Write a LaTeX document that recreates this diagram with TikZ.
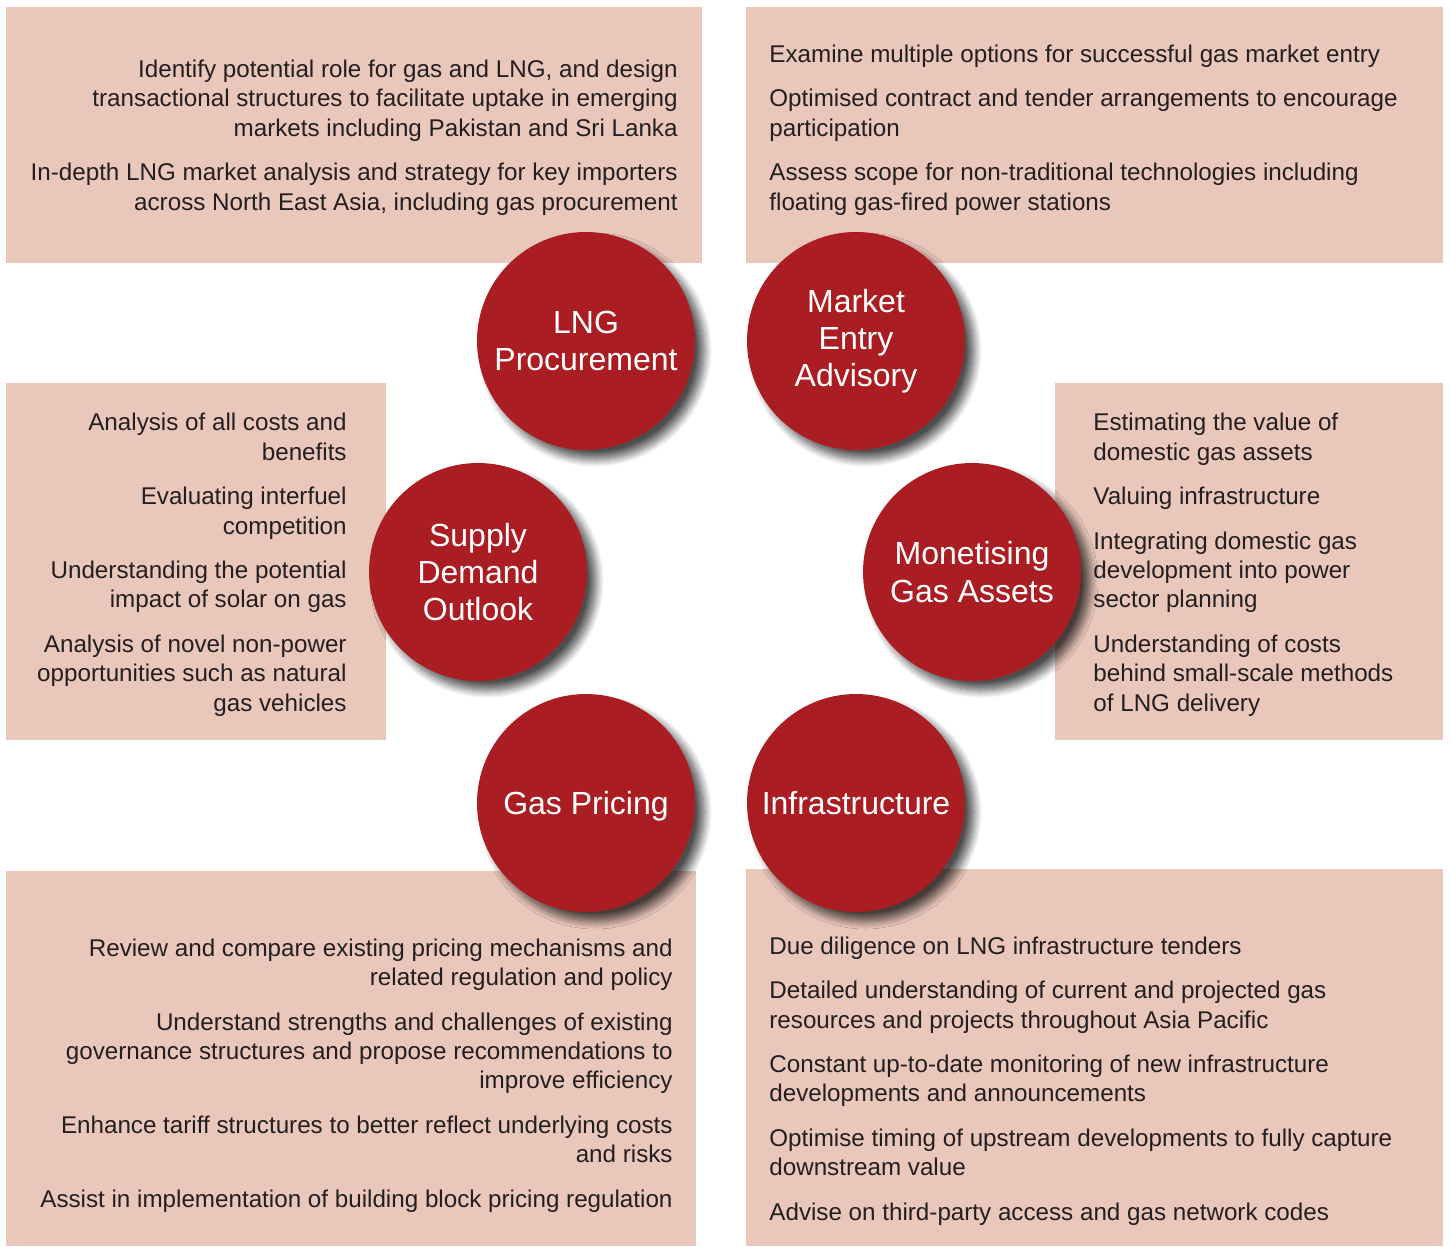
\documentclass[tikz,border=0pt]{standalone}
\usepackage{fontspec}
\setmainfont{Liberation Sans}
\usetikzlibrary{shadows.blur}
\definecolor{boxc}{HTML}{E9C7BB}
\definecolor{circc}{HTML}{AA1E23}
\definecolor{txtc}{HTML}{231F20}
\begin{document}
\begin{tikzpicture}[x=0.5pt,y=-0.5pt,
  panel/.style={fill=boxc,draw=none},
  txtR/.style={inner sep=0pt,align=right,anchor=base east,text=txtc,font=\fontsize{12.1}{14.7}\selectfont},
  txtL/.style={inner sep=0pt,align=left,anchor=base west,text=txtc,font=\fontsize{12.1}{14.7}\selectfont},
  bubble/.style={circle,minimum size=109pt,inner sep=0pt,fill=circc,text=white,align=center,
    font=\fontsize{16}{18.6}\selectfont,
    blur shadow={shadow xshift=4.5pt,shadow yshift=-4.5pt,shadow blur radius=4pt,shadow blur steps=12,shadow opacity=70}}
]
\useasboundingbox (0,0) rectangle (1451,1247);
% panels
\path[panel] (6,7) rectangle (702,263);
\path[panel] (746,7) rectangle (1443,263);
\path[panel] (6,383) rectangle (386,740);
\path[panel] (1055,383) rectangle (1443,740);
\path[panel] (6,871) rectangle (696,1246);
\path[panel] (746,869) rectangle (1443,1246);
% texts (base anchor = baseline of last line)
\node[txtR] (tTL) at (678,210) {Identify potential role for gas and LNG, and design\\transactional structures to facilitate uptake in emerging\\markets including Pakistan and Sri Lanka\\[7.5pt]In-depth LNG market analysis and strategy for key importers\\across North East Asia, including gas procurement};
\node[txtL] (tTR) at (769,210) {Examine multiple options for successful gas market entry\\[7.5pt]Optimised contract and tender arrangements to encourage\\participation\\[7.5pt]Assess scope for non-traditional technologies including\\floating gas-fired power stations};
\node[txtR] (tML) at (347,711) {Analysis of all costs and\\benefits\\[7.5pt]Evaluating interfuel\\competition\\[7.5pt]Understanding the potential\\impact of solar on gas\\[7.5pt]Analysis of novel non-power\\opportunities such as natural\\gas vehicles};
\node[txtL] (tMR) at (1093,711) {Estimating the value of\\domestic gas assets\\[7.5pt]Valuing infrastructure\\[7.5pt]Integrating domestic gas\\development into power\\sector planning\\[7.5pt]Understanding of costs\\behind small-scale methods\\of LNG delivery};
\node[txtR] (tBL) at (673,1207) {Review and compare existing pricing mechanisms and\\related regulation and policy\\[7.5pt]Understand strengths and challenges of existing\\governance structures and propose recommendations to\\improve efficiency\\[7.5pt]Enhance tariff structures to better reflect underlying costs\\and risks\\[7.5pt]Assist in implementation of building block pricing regulation};
\node[txtL] (tBR) at (769,1220) {Due diligence on LNG infrastructure tenders\\[7.5pt]Detailed understanding of current and projected gas\\resources and projects throughout Asia Pacific\\[7.5pt]Constant up-to-date monitoring of new infrastructure\\developments and announcements\\[7.5pt]Optimise timing of upstream developments to fully capture\\downstream value\\[7.5pt]Advise on third-party access and gas network codes};
% bubbles
\node[bubble] (lng) at (586,341) {LNG\\Procurement};
\node[bubble] (mea) at (856,341) {Market\\Entry\\Advisory};
\node[bubble] (sdo) at (478,572) {Supply\\Demand\\Outlook};
\node[bubble] (mga) at (972,572) {Monetising\\Gas Assets};
\node[bubble,text depth=0pt] (gp) at (586,803) {Gas Pricing};
\node[bubble] (inf) at (856,803) {Infrastructure};
\end{tikzpicture}
\end{document}
